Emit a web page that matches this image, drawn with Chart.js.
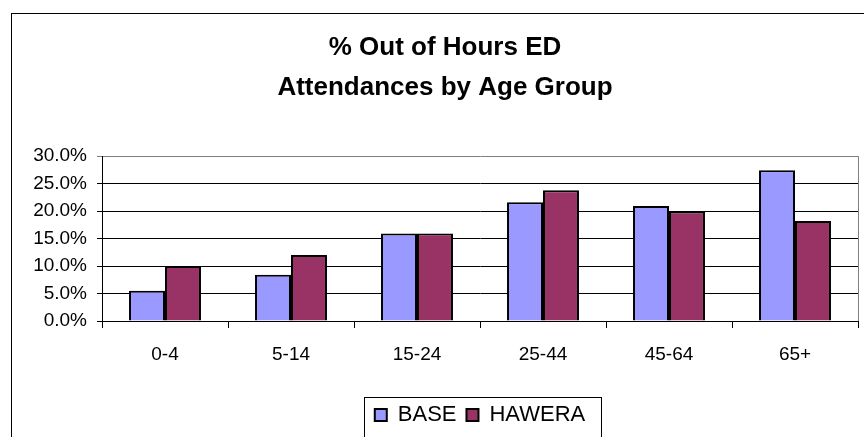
<!DOCTYPE html>
<html lang="en">
<head>
    <meta charset="UTF-8">
    <title>% Out of Hours ED Attendances by Age Group</title>
    <script src="https://cdn.jsdelivr.net/npm/chart.js"></script>
    <style>
        body { margin: 0; background: #fff; }
        canvas { display: block; }
    </style>
</head>
<body>
    <canvas id="grafico" width="864" height="437"></canvas>

    <script>
        // datos
        const ageGroups = ['0-4', '5-14', '15-24', '25-44', '45-64', '65+'];
        const baseValues = [5.5, 8.4, 15.9, 21.6, 20.9, 27.4];
        const haweraValues = [10.0, 12.0, 15.9, 23.8, 19.9, 18.2];
        const yTicks = [0, 5, 10, 15, 20, 25, 30];

        const fuente = 'Liberation Sans, Arial, sans-serif';

        // marco exterior, borde derecho del area y caja de la leyenda
        const marcos = {
            id: 'marcos',
            afterDraw(chart) {
                const ctx = chart.ctx;
                const area = chart.chartArea;
                ctx.save();
                ctx.lineWidth = 1;
                ctx.strokeStyle = '#000';
                ctx.strokeRect(11.5, 13.5, 900, 500);

                ctx.strokeStyle = '#808080';
                ctx.beginPath();
                ctx.moveTo(Math.round(area.right) + 0.5, area.top);
                ctx.lineTo(Math.round(area.right) + 0.5, area.bottom);
                ctx.stroke();

                const cajas = chart.legend.legendHitBoxes;
                if (cajas && cajas.length) {
                    const primera = cajas[0];
                    const ultima = cajas[cajas.length - 1];
                    const izq = Math.round(primera.left - 11) + 0.5;
                    const der = Math.round(ultima.left + ultima.width + 16) + 0.5;
                    const arriba = Math.round(chart.legend.top + 3) + 0.5;
                    ctx.strokeStyle = '#000';
                    ctx.strokeRect(izq, arriba, der - izq, 100);
                }
                ctx.restore();
            }
        };

        new Chart(document.getElementById('grafico'), {
            type: 'bar',
            data: {
                labels: ageGroups,
                datasets: [
                    {
                        label: 'BASE',
                        data: baseValues,
                        backgroundColor: '#9999FF',
                        borderColor: '#000',
                        borderWidth: 2
                    },
                    {
                        label: 'HAWERA',
                        data: haweraValues,
                        backgroundColor: '#993366',
                        borderColor: '#000',
                        borderWidth: 2
                    }
                ]
            },
            options: {
                responsive: false,
                animation: false,
                datasets: {
                    bar: { categoryPercentage: 0.571, barPercentage: 1 }
                },
                layout: { padding: { left: 32, right: 6, top: 0, bottom: 1 } },
                scales: {
                    x: {
                        grid: {
                            offset: true,
                            drawOnChartArea: false,
                            drawTicks: true,
                            tickLength: 7,
                            color: '#000'
                        },
                        border: { display: true, color: '#000' },
                        ticks: {
                            color: '#000',
                            padding: 15,
                            font: { family: fuente, size: 19 }
                        },
                        afterFit(scale) { scale.height = 73; }
                    },
                    y: {
                        min: 0,
                        max: 30,
                        afterBuildTicks(scale) {
                            scale.ticks = yTicks.map(v => ({ value: v }));
                        },
                        grid: {
                            color: ctx => ctx.tick && ctx.tick.value === 30 ? '#808080' : '#000',
                            tickLength: 5,
                            drawTicks: true
                        },
                        border: { display: true, color: '#000' },
                        ticks: {
                            color: '#000',
                            padding: 10,
                            font: { family: fuente, size: 19 },
                            callback: v => v.toFixed(1) + '%'
                        },
                        afterFit(scale) { scale.width = 70; }
                    }
                },
                plugins: {
                    title: {
                        display: true,
                        text: ['% Out of Hours ED', 'Attendances by Age Group'],
                        color: '#000',
                        font: { family: fuente, size: 26, weight: 'bold', lineHeight: 1.54 },
                        padding: { top: 28, bottom: 48 }
                    },
                    legend: {
                        position: 'bottom',
                        fullSize: false,
                        labels: {
                            color: '#000',
                            boxWidth: 12,
                            boxHeight: 12,
                            padding: 10,
                            font: { family: fuente, size: 22 },
                            useBorderRadius: false
                        }
                    },
                    tooltip: { enabled: false }
                }
            },
            plugins: [marcos]
        });
    </script>
</body>
</html>
